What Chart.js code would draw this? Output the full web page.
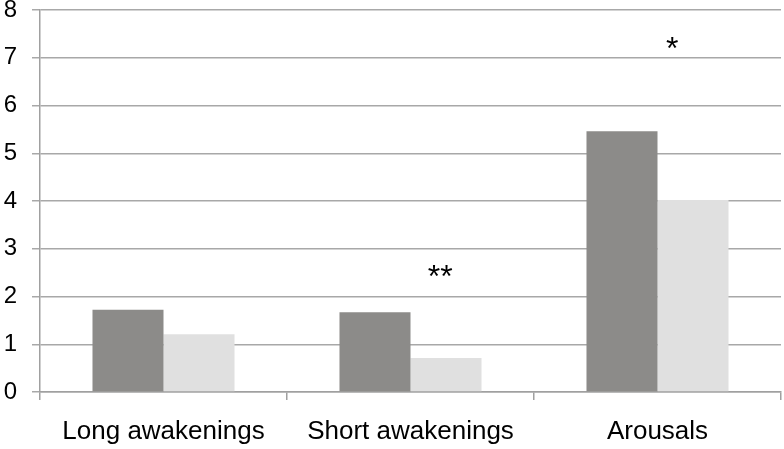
<!DOCTYPE html>
<html>
<head>
<meta charset="utf-8">
<script src="https://cdn.jsdelivr.net/npm/chart.js@4"></script>
<style>
  html, body { margin: 0; padding: 0; background: #fff; }
  #wrap { width: 784px; height: 449px; }
</style>
</head>
<body>
<div id="wrap"><canvas id="bar-chart"></canvas></div>
<script>
// data
var categories = ["Long awakenings", "Short awakenings", "Arousals"];
var seriesA = [1.72, 1.67, 5.46];
var seriesB = [1.21, 0.71, 4.02];
var yTicks = [0, 1, 2, 3, 4, 5, 6, 7, 8];

// significance marks: category (decimal index), y value, text
var markText = ["**", "*"];
var markX = [1.12, 2.06];
var markY = [2.51, 7.29];

var marks = {
  id: 'marks',
  afterDatasetsDraw: function (chart) {
    var ctx = chart.ctx;
    var x = chart.scales.x, y = chart.scales.y;
    ctx.save();
    ctx.fillStyle = '#000';
    ctx.font = '32px "Liberation Sans", Arial, sans-serif';
    ctx.textAlign = 'center';
    ctx.textBaseline = 'middle';
    for (var i = 0; i < markText.length; i++) {
      ctx.fillText(markText[i], x.getPixelForValue(markX[i]), y.getPixelForValue(markY[i]) + 6);
    }
    ctx.restore();
  }
};

new Chart(document.getElementById("bar-chart"), {
  type: 'bar',
  data: {
    labels: categories,
    datasets: [
      { label: "A", data: seriesA, backgroundColor: '#8c8b89' },
      { label: "B", data: seriesB, backgroundColor: '#e0e0e0' }
    ]
  },
  options: {
    responsive: true,
    maintainAspectRatio: false,
    animation: false,
    layout: { padding: { top: 0, right: 3, left: 0, bottom: 0 } },
    datasets: { bar: { categoryPercentage: 0.575, barPercentage: 1.0 } },
    plugins: { legend: { display: false }, tooltip: { enabled: false } },
    scales: {
      x: {
        offset: true,
        grid: { display: true, drawOnChartArea: false, offset: true, tickLength: 8, color: '#a0a0a0', lineWidth: 1.5 },
        border: { color: '#a0a0a0', width: 1.5 },
        ticks: { color: '#000', padding: 16, maxRotation: 0, font: { family: '"Liberation Sans", Arial, sans-serif', size: 26 } },
        afterFit: function (s) { s.height = 57; }
      },
      y: {
        min: 0, max: 8,
        afterBuildTicks: function (s) { s.ticks = yTicks.map(function (v) { return { value: v }; }); },
        grid: { color: '#a8a8a8', lineWidth: 1.5, tickLength: 8 },
        border: { color: '#a0a0a0', width: 1.5 },
        ticks: { color: '#000', padding: 15, font: { family: '"Liberation Sans", Arial, sans-serif', size: 24 } },
        afterFit: function (s) { s.width = 40; s.paddingTop = 10; s.paddingBottom = 0; }
      }
    }
  },
  plugins: [marks]
});
</script>
</body>
</html>
